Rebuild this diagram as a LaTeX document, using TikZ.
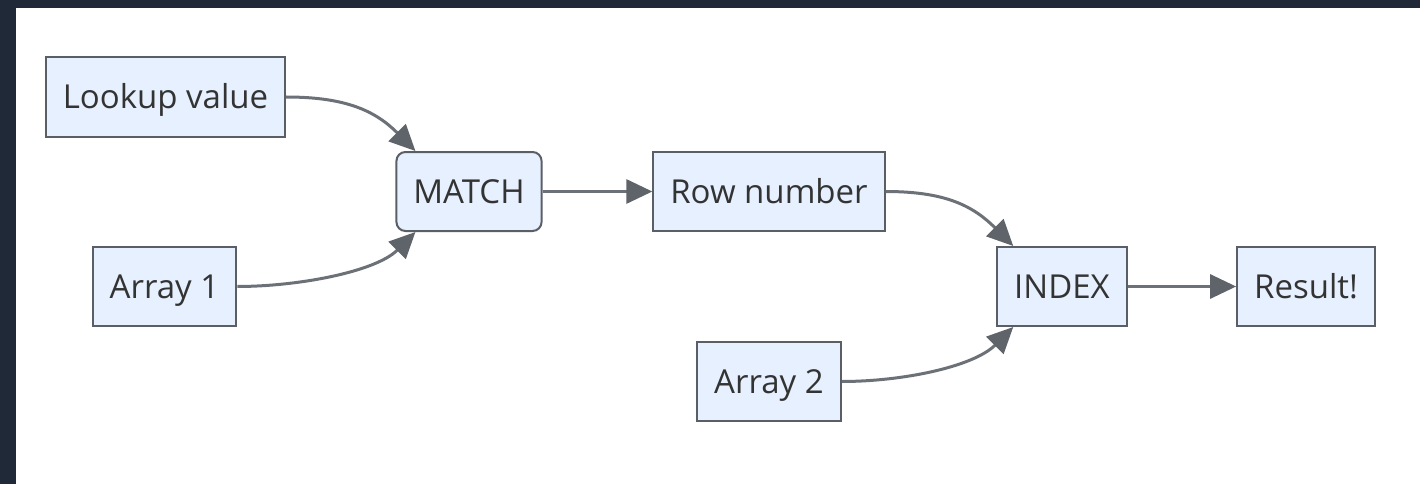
\documentclass[tikz,border=0pt]{standalone}
\usepackage{fontspec}
\setmainfont{Open Sans}
\usetikzlibrary{arrows.meta}
\definecolor{frame}{HTML}{1F2937}
\definecolor{boxfill}{HTML}{E6F0FF}
\definecolor{boxline}{HTML}{5A5F66}
\definecolor{linkline}{HTML}{6C7178}
\definecolor{tipfill}{HTML}{5F646B}
\definecolor{txt}{HTML}{333333}
\tikzset{box/.style={draw=boxline, fill=boxfill, line width=2pt, text=txt, inner xsep=17pt, inner ysep=0pt, minimum height=79pt, text height=23.5pt, text depth=0pt, font=\fontsize{33}{38}\selectfont},
  rbox/.style={box, rounded corners=9pt},
  link/.style={draw=linkline, line width=3pt, -{Triangle[length=26pt,width=24pt,fill=tipfill,color=tipfill]}}}

\begin{document}
\begin{tikzpicture}[x=1pt,y=-1pt]
       \useasboundingbox (0,0) rectangle (1420,484);
       \fill[white] (0,0) rectangle (1420,484);
       \fill[frame] (0,0) rectangle (1420,8);
       \fill[frame] (0,0) rectangle (16,484);
       \node[box]  (look)   at (165.5, 97)   {Lookup value};
       \node[box]  (arr1)   at (164.5, 286.5) {Array 1};
       \node[rbox] (match)  at (469, 191.5)  {MATCH};
       \node[box]  (row)    at (769, 191.5)  {Row number};
       \node[box]  (index)  at (1062, 286.5) {INDEX};
       \node[box]  (arr2)   at (769, 381.5)  {Array 2};
       \node[box]  (result) at (1306, 286.5) {Result!};
       \draw[link] (look.east)  .. controls +(60,0) and +(-40,-40) .. ([xshift=20pt]match.north west);
       \draw[link] (arr1.east)  .. controls +(60,0) and +(-40,40) .. ([xshift=20pt]match.south west);
       \draw[link] (match) -- (row);
       \draw[link] (row.east)   .. controls +(60,0) and +(-40,-40) .. ([xshift=17pt]index.north west);
       \draw[link] (arr2.east)  .. controls +(60,0) and +(-40,40) .. ([xshift=17pt]index.south west);
       \draw[link] (index) -- (result);
      \end{tikzpicture}
\end{document}
